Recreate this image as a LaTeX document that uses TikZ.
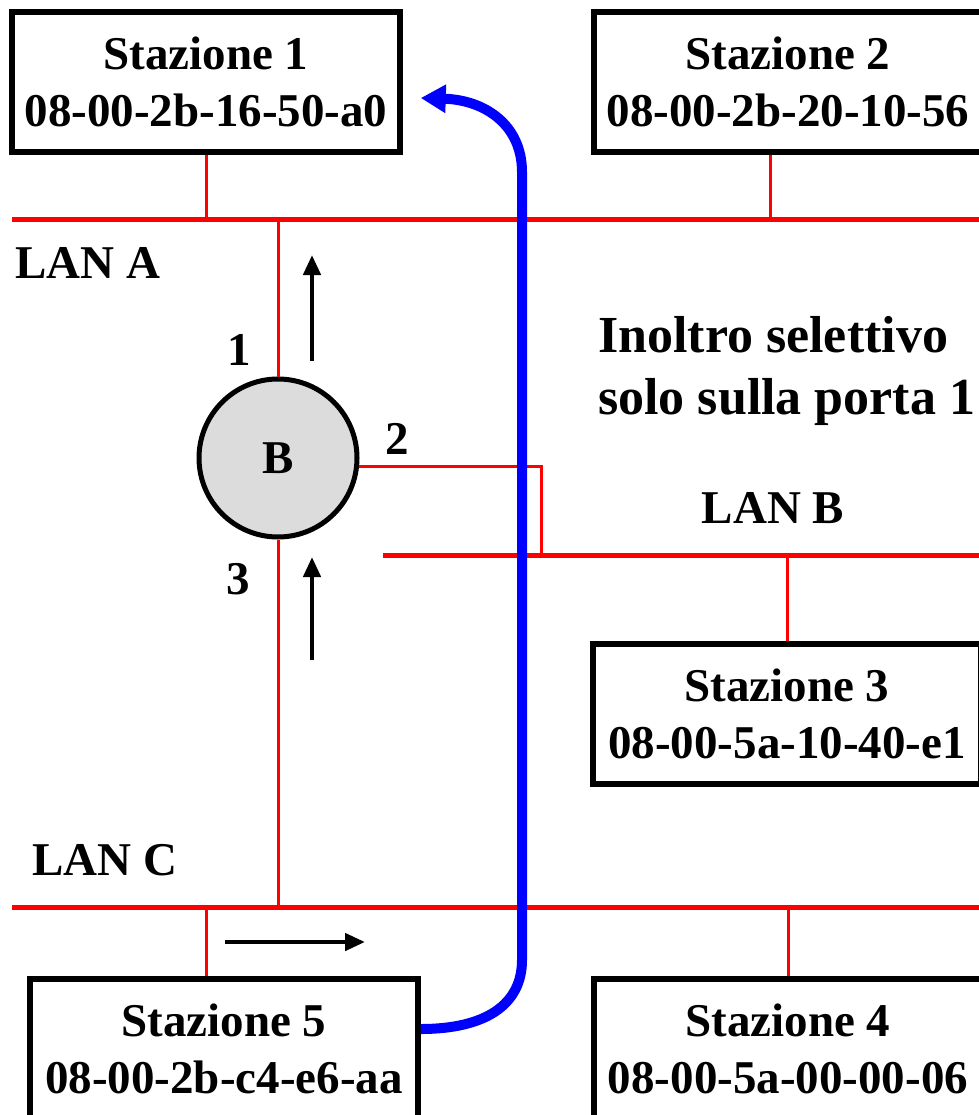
\documentclass[tikz,border=0pt]{standalone}
\usepackage{fontspec}
\setmainfont{Liberation Serif}
\usetikzlibrary{arrows.meta, positioning}
\definecolor{bridgegray}{RGB}{220,220,220}
\newcommand{\stfont}{\fontsize{47}{57}\selectfont\bfseries}
\newcommand{\notefont}{\fontsize{52}{62}\selectfont\bfseries}

\begin{document}
\begin{tikzpicture}[
    x=1pt, y=-1pt,
    station/.style={rectangle, draw=black, line width=5.5pt, fill=white, minimum width=388pt, minimum height=140pt, inner sep=0pt, align=center, font=\stfont},
    bridge/.style={circle, draw=black, line width=5pt, fill=bridgegray, minimum size=158pt, inner sep=0pt, font=\stfont},
    lbl/.style={inner sep=0pt, font=\stfont},
    note/.style={inner sep=0pt, align=left, font=\notefont},
    lan/.style={red, line width=5pt},
    tap/.style={red, line width=3pt},
    dirarrow/.style={-{Triangle[length=20pt,width=17pt]}, line width=4.5pt},
    flow/.style={-{Triangle[length=25pt,width=27pt]}, blue, line width=10pt}
]
\useasboundingbox (0,0) rectangle (978,1115);

% LAN segments
\coordinate (lanAw) at (12,220);
\coordinate (lanAe) at (995,220);
\coordinate (lanBw) at (383,555);
\coordinate (lanBe) at (995,555);
\coordinate (lanCw) at (12,907);
\coordinate (lanCe) at (995,907);
\coordinate (p2) at (541,555);

\draw[lan] (lanAw) -- (lanAe);
\draw[lan] (lanBw) -- (lanBe);
\draw[lan] (lanCw) -- (lanCe);

% Stations
\node[station] (st1) at (206,82) {Stazione 1\\08-00-2b-16-50-a0};
\node[station] (st2) at (788,82) {Stazione 2\\08-00-2b-20-10-56};
\node[station] (st3) at (787,714) {Stazione 3\\08-00-5a-10-40-e1};
\node[station] (st4) at (788,1049) {Stazione 4\\08-00-5a-00-00-06};
\node[station] (st5) at (224,1049) {Stazione 5\\08-00-2b-c4-e6-aa};

% Bridge
\node[bridge] (br) at (278,458) {B};
\node[lbl] (port1) at (239,350) {1};
\node[lbl] (port2) at (397,439) {2};
\node[lbl] (port3) at (238,579) {3};

% LAN labels
\node[lbl] (labA) at (88,263) {LAN A};
\node[lbl] (labB) at (773,508) {LAN B};
\node[lbl] (labC) at (105,860) {LAN C};
\node[note, anchor=west] (msg) at (598,371) {Inoltro selettivo\\solo sulla porta 1};

% Taps to the LANs
\draw[tap] (st1.south) -- (st1.south |- lanAw);
\draw[tap] ([xshift=-18pt]st2.south) -- ([xshift=-18pt]st2.south |- lanAw);
\draw[tap] (st3.north) -- (st3.north |- lanBw);
\draw[tap] (st4.north) -- (st4.north |- lanCw);
\draw[tap] ([xshift=-18pt]st5.north) -- ([xshift=-18pt]st5.north |- lanCw);
\draw[tap] (br.north) -- (br.north |- lanAw);
\draw[tap] (br.south) -- (br.south |- lanCw);
\draw[tap] (br.-6) -| (p2);

% Direction of the frame
\coordinate (upAs) at (312,361);
\coordinate (upAe) at (312,255);
\coordinate (upCs) at (312,660);
\coordinate (upCe) at (312,557);
\coordinate (rtCs) at (225,942);
\coordinate (rtCe) at (365,942);
\draw[dirarrow] (upAs) -- (upAe);
\draw[dirarrow] (upCs) -- (upCe);
\draw[dirarrow] (rtCs) -- (rtCe);

% Path from station 5 to station 1
\coordinate (s5out) at ([yshift=20pt]st5.east);
\coordinate (bendlow) at (522,960);
\coordinate (bendhigh) at (522,172);
\coordinate (s1in) at ([xshift=18pt,yshift=-16pt]st1.east);
\draw[flow] (s5out) .. controls (485,1029) and (522,1005) .. (bendlow)
    -- (bendhigh) .. controls (522,125) and (485,100) .. (s1in);

\end{tikzpicture}
\end{document}
